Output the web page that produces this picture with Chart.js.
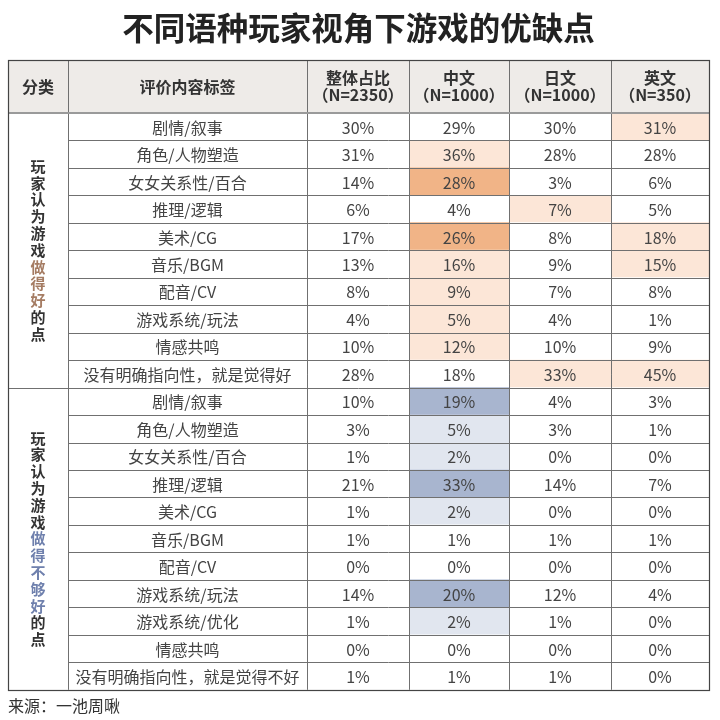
<!DOCTYPE html>
<html lang="zh">
<head>
<meta charset="UTF-8" />
<title>不同语种玩家视角下游戏的优缺点</title>
<script src="https://cdn.jsdelivr.net/npm/chart.js"></script>
<style>
  body { margin: 0; background: #fff; }
  .wrap { width: 720px; height: 720px; }
</style>
</head>
<body>
<div class="wrap"><canvas id="tbl"></canvas></div>
<script>
// 表头
const headers = ['分类', '评价内容标签', '整体占比\n（N=2350）', '中文\n（N=1000）', '日文\n（N=1000）', '英文\n（N=350）'];
const groups = ['玩家认为游戏做得好的点', '玩家认为游戏做得不够好的点'];
const groupEmph = ['做得好', '做得不够好'];

// 做得好的点
const goodTags = ['剧情/叙事', '角色/人物塑造', '女女关系性/百合', '推理/逻辑', '美术/CG', '音乐/BGM', '配音/CV', '游戏系统/玩法', '情感共鸣', '没有明确指向性，就是觉得好'];
const goodAll = [30, 31, 14, 6, 17, 13, 8, 4, 10, 28];
const goodCn  = [29, 36, 28, 4, 26, 16, 9, 5, 12, 18];
const goodJp  = [30, 28, 3, 7, 8, 9, 7, 4, 10, 33];
const goodEn  = [31, 28, 6, 5, 18, 15, 8, 1, 9, 45];

// 做得不够好的点
const badTags = ['剧情/叙事', '角色/人物塑造', '女女关系性/百合', '推理/逻辑', '美术/CG', '音乐/BGM', '配音/CV', '游戏系统/玩法', '游戏系统/优化', '情感共鸣', '没有明确指向性，就是觉得不好'];
const badAll = [10, 3, 1, 21, 1, 1, 0, 14, 1, 0, 1];
const badCn  = [19, 5, 2, 33, 2, 1, 0, 20, 2, 0, 1];
const badJp  = [4, 3, 0, 14, 0, 1, 0, 12, 1, 0, 1];
const badEn  = [3, 1, 0, 7, 0, 1, 0, 4, 0, 0, 0];

// 高亮程度 0 无 / 1 浅 / 2 深
const goodAllLv = [0, 0, 0, 0, 0, 0, 0, 0, 0, 0];
const goodCnLv  = [0, 1, 2, 0, 2, 1, 1, 1, 1, 0];
const goodJpLv  = [0, 0, 0, 1, 0, 0, 0, 0, 0, 1];
const goodEnLv  = [1, 0, 0, 0, 1, 1, 0, 0, 0, 1];
const badAllLv  = [0, 0, 0, 0, 0, 0, 0, 0, 0, 0, 0];
const badCnLv   = [2, 1, 1, 2, 1, 0, 0, 2, 1, 0, 0];
const badJpLv   = [0, 0, 0, 0, 0, 0, 0, 0, 0, 0, 0];
const badEnLv   = [0, 0, 0, 0, 0, 0, 0, 0, 0, 0, 0];

// 版式
const colW = [60, 239, 102, 100, 102, 98];
const edges = colW.reduce((acc, w) => { acc.push(acc[acc.length - 1] + w); return acc; }, [0]);
const orange = ['#ffffff', '#fce6d7', '#f1b487'];
const blue = ['#ffffff', '#e1e6ef', '#a8b5cf'];
const FONT = "'Noto Sans CJK SC', 'Noto Sans', sans-serif";

const rows = goodTags.concat(badTags);
const nGood = goodTags.length;

const series = [
  [goodAll, badAll, goodAllLv, badAllLv],
  [goodCn, badCn, goodCnLv, badCnLv],
  [goodJp, badJp, goodJpLv, badJpLv],
  [goodEn, badEn, goodEnLv, badEnLv]
];

const datasets = [{
  data: rows.map(() => [edges[1], edges[2]]),
  backgroundColor: '#ffffff',
  texts: rows
}];
series.forEach((s, i) => {
  const vals = s[0].concat(s[1]);
  const lv = s[2].concat(s[3]);
  datasets.push({
    data: vals.map(() => [edges[i + 2], edges[i + 3]]),
    backgroundColor: lv.map((l, r) => (r < nGood ? orange : blue)[l]),
    texts: vals.map(v => v + '%')
  });
});

function crisp(v) { return Math.round(v) + 0.5; }

const tablePlugin = {
  id: 'table',
  afterDatasetsDraw(chart) {
    const { ctx, chartArea: a, scales: { x, y } } = chart;
    const rowH = a.height / rows.length;
    const headTop = a.top - rowH * 1.92;
    const xs = edges.map(v => x.getPixelForValue(v));
    ctx.save();

    // 表头
    ctx.fillStyle = '#eeebe8';
    ctx.fillRect(xs[0], headTop, xs[6] - xs[0], a.top - headTop);
    ctx.fillStyle = '#333';
    ctx.font = 'bold 16px ' + FONT;
    ctx.textAlign = 'center';
    ctx.textBaseline = 'middle';
    const hMid = (headTop + a.top) / 2;
    headers.forEach((h, i) => {
      const cx = (xs[i] + xs[i + 1]) / 2;
      const lines = h.split('\n');
      lines.forEach((t, k) => {
        ctx.fillText(t, cx, hMid + (k - (lines.length - 1) / 2) * 17.5);
      });
    });

    // 单元格文字
    ctx.font = '16px ' + FONT;
    ctx.fillStyle = '#444';
    chart.data.datasets.forEach((ds, di) => {
      chart.getDatasetMeta(di).data.forEach((el, r) => {
        ctx.fillText(ds.texts[r], (el.x + el.base) / 2, el.y + 1);
      });
    });

    // 分类竖排文字
    ctx.font = 'bold 15px ' + FONT;
    const spans = [[0, nGood], [nGood, rows.length]];
    groups.forEach((g, gi) => {
      const top = y.getPixelForValue(spans[gi][0]) - rowH / 2;
      const bot = y.getPixelForValue(spans[gi][1] - 1) + rowH / 2;
      const mid = (top + bot) / 2;
      const chars = Array.from(g);
      const eStart = g.indexOf(groupEmph[gi]);
      const eEnd = eStart + groupEmph[gi].length;
      const cx = (xs[0] + xs[1]) / 2;
      chars.forEach((c, k) => {
        ctx.fillStyle = (k >= eStart && k < eEnd) ? (gi === 0 ? '#a57c63' : '#6f80ad') : '#333';
        ctx.fillText(c, cx, mid + (k - (chars.length - 1) / 2) * 16.8);
      });
    });

    // 网格线
    ctx.strokeStyle = '#707070';
    ctx.lineWidth = 1;
    ctx.beginPath();
    for (let r = 1; r < rows.length; r++) {
      const yy = crisp(y.getPixelForValue(r) - rowH / 2);
      ctx.moveTo(r === nGood ? xs[0] : xs[1], yy);
      ctx.lineTo(xs[6], yy);
    }
    for (let i = 1; i < 6; i++) {
      const xx = crisp(xs[i]);
      ctx.moveTo(xx, headTop);
      ctx.lineTo(xx, a.bottom);
    }
    ctx.stroke();

    // 表头下边线
    ctx.strokeStyle = '#9a9a9a';
    ctx.lineWidth = 2;
    ctx.beginPath();
    ctx.moveTo(xs[0], Math.round(a.top));
    ctx.lineTo(xs[6], Math.round(a.top));
    ctx.stroke();

    // 外框
    ctx.strokeStyle = '#444';
    ctx.lineWidth = 1.2;
    ctx.strokeRect(crisp(xs[0]), crisp(headTop), Math.round(xs[6] - xs[0]), Math.round(a.bottom - headTop));
    ctx.restore();
  }
};

Chart.defaults.font.family = FONT;

new Chart(document.getElementById('tbl'), {
  type: 'bar',
  data: { labels: rows.map((t, i) => i), datasets },
  options: {
    indexAxis: 'y',
    responsive: true,
    maintainAspectRatio: false,
    animation: false,
    layout: { padding: { left: 8, right: 11, top: 0, bottom: 0 } },
    datasets: { bar: { grouped: false, barPercentage: 1, categoryPercentage: 1, borderWidth: 0 } },
    scales: {
      x: { type: 'linear', min: 0, max: edges[edges.length - 1], display: false },
      y: { display: false }
    },
    plugins: {
      legend: { display: false },
      tooltip: { enabled: false },
      title: {
        display: true,
        text: '不同语种玩家视角下游戏的优缺点',
        color: '#222',
        font: { size: 31.5, weight: 'bold' },
        padding: { top: 9, bottom: 66 }
      },
      subtitle: {
        display: true,
        text: '来源：一池周啾',
        position: 'bottom',
        align: 'start',
        color: '#333',
        font: { size: 16 },
        padding: { top: 7, bottom: 4 }
      }
    }
  },
  plugins: [tablePlugin]
});
</script>
</body>
</html>
